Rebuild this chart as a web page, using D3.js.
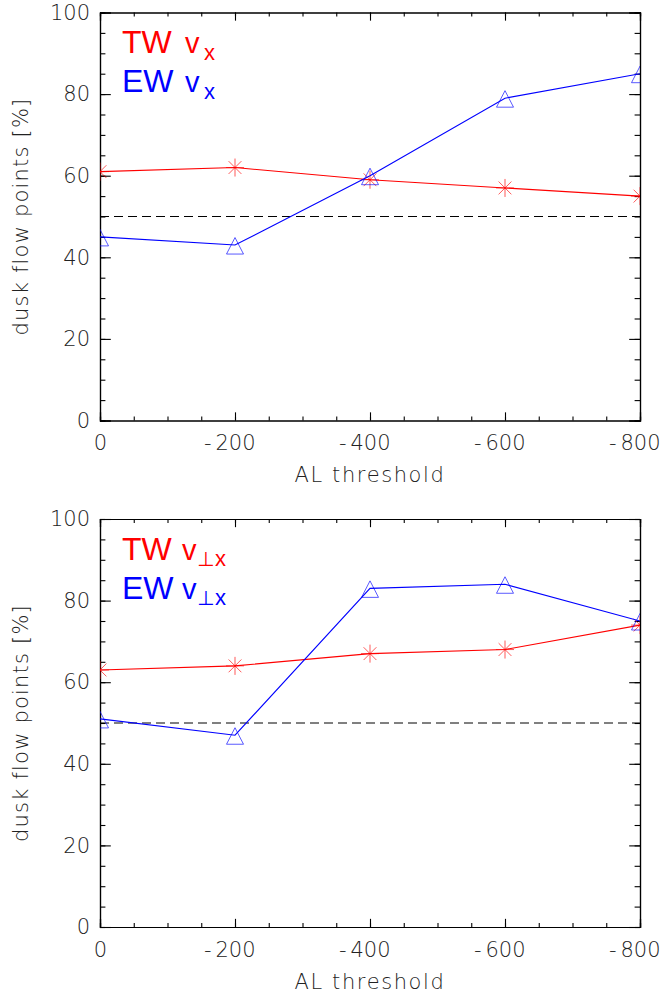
<!DOCTYPE html>
<html>
<head>
<meta charset="utf-8">
<script src="https://cdn.jsdelivr.net/npm/d3@7"></script>
<style>
  html, body { margin: 0; padding: 0; background: #fff; }
  svg { display: block; }
  .thin { font-family: "DejaVu Sans", sans-serif; font-weight: 200; fill: #222; }
</style>
</head>
<body>
<svg id="chart" width="665" height="993"></svg>
<script>
// ---------- data ----------
const alThresholds = [0, -200, -400, -600, -800];
const twVx    = [61, 62, 59, 57, 55];
const ewVx    = [45, 43, 60, 79, 85];
const twVperp = [63, 64, 67, 68, 74];
const ewVperp = [51, 47, 83, 84, 75];
const xTickValues = [0, -200, -400, -600, -800];
const yTickValues = [0, 20, 40, 60, 80, 100];
const referenceLevel = 50;
const xTitle = "AL threshold";
const yTitle = "dusk flow points [%]";

// ---------- layout ----------
const svg = d3.select("#chart");
const plotLeft = 100, plotRight = 640, plotH = 408;
const panels = [
  { top: 12.5, tw: twVx, ew: ewVx, sub: "x", perp: false, id: "a" },
  { top: 519,  tw: twVperp, ew: ewVperp, sub: "x", perp: true, id: "b" }
];
const fontSize = 21;
const red = "#ff0000", blue = "#0000ff";

const triangle = "M0,-7.5L8.5,9L-8.5,9Z";
const asterisk = "M-9,0L9,0M0,-9L0,9M-6.4,-6.4L6.4,6.4M-6.4,6.4L6.4,-6.4";

const x = d3.scaleLinear().domain([0, -800]).range([plotLeft, plotRight]);
const xMinor = d3.range(0, -801, -50);
const yMinor = d3.range(0, 101, 5);

panels.forEach(p => {
  const y = d3.scaleLinear().domain([0, 100]).range([p.top + plotH, p.top]);
  const g = svg.append("g");
  const bottom = p.top + plotH;
  const xLen = 0.02 * plotH, yLen = 0.02 * (plotRight - plotLeft);

  svg.append("clipPath").attr("id", "clip" + p.id)
    .append("rect").attr("x", plotLeft).attr("y", p.top)
    .attr("width", plotRight - plotLeft).attr("height", plotH);

  const axB = g.append("g").attr("transform", `translate(0,${bottom})`)
    .call(d3.axisBottom(x).tickValues(xTickValues).tickSize(-xLen).tickPadding(15)
      .tickFormat(d => Math.abs(d)));
  g.append("g").attr("transform", `translate(0,${bottom})`)
    .call(d3.axisBottom(x).tickValues(xMinor).tickSize(-xLen / 2).tickFormat(""));
  g.append("g").attr("transform", `translate(0,${p.top})`)
    .call(d3.axisTop(x).tickValues(xTickValues).tickSize(-xLen).tickFormat(""));
  g.append("g").attr("transform", `translate(0,${p.top})`)
    .call(d3.axisTop(x).tickValues(xMinor).tickSize(-xLen / 2).tickFormat(""));

  g.append("g").attr("transform", `translate(${plotLeft},0)`)
    .call(d3.axisLeft(y).tickValues(yTickValues).tickSize(-yLen).tickPadding(10));
  g.append("g").attr("transform", `translate(${plotLeft},0)`)
    .call(d3.axisLeft(y).tickValues(yMinor).tickSize(-yLen / 2).tickFormat(""));
  g.append("g").attr("transform", `translate(${plotRight},0)`)
    .call(d3.axisRight(y).tickValues(yTickValues).tickSize(-yLen).tickFormat(""));
  g.append("g").attr("transform", `translate(${plotRight},0)`)
    .call(d3.axisRight(y).tickValues(yMinor).tickSize(-yLen / 2).tickFormat(""));

  g.selectAll(".domain").attr("stroke", "#000").attr("stroke-width", 1.2);
  g.selectAll(".tick line").attr("stroke", "#000").attr("stroke-width", 1.1);
  g.selectAll(".tick text").attr("class", "thin").attr("font-size", fontSize)
    .attr("font-family", null);

  axB.selectAll(".tick").each(function(d) {
    if (d < 0) {
      const t = d3.select(this).select("text");
      const w = t.node().getComputedTextLength();
      d3.select(this).append("text").attr("class", "thin")
        .attr("font-size", fontSize)
        .attr("x", -w / 2 - 4).attr("y", t.attr("y")).attr("dy", t.attr("dy"))
        .attr("text-anchor", "end").text("-");
    }
  });

  g.append("line")
    .attr("x1", x(0)).attr("x2", x(-800))
    .attr("y1", y(referenceLevel)).attr("y2", y(referenceLevel))
    .attr("stroke", "#000").attr("stroke-width", 1).attr("stroke-dasharray", "9,5");

  const plot = g.append("g").attr("clip-path", `url(#clip${p.id})`);
  const line = d3.line().x((d, i) => x(alThresholds[i])).y(d => y(d));
  [[p.tw, red, asterisk], [p.ew, blue, triangle]].forEach(([vals, col, sym]) => {
    plot.append("path").datum(vals).attr("d", line)
      .attr("fill", "none").attr("stroke", col).attr("stroke-width", 1.1);
    plot.selectAll(null).data(vals).enter().append("path")
      .attr("transform", (d, i) => `translate(${x(alThresholds[i])},${y(d)})`)
      .attr("d", sym).attr("fill", "none").attr("stroke", col)
      .attr("stroke-width", 1).attr("stroke-opacity", 0.65);
  });

  g.append("text").attr("class", "thin").attr("font-size", fontSize)
    .attr("x", (plotLeft + plotRight) / 2).attr("y", bottom + 61.5)
    .attr("text-anchor", "middle").attr("letter-spacing", 1.6).text(xTitle);
  g.append("text").attr("class", "thin").attr("font-size", fontSize)
    .attr("transform", `translate(28,${p.top + plotH / 2}) rotate(-90)`)
    .attr("text-anchor", "middle").attr("letter-spacing", 1.2).text(yTitle);

  const legend = [["TW", red, p.top + 40.5], ["EW", blue, p.top + 79.5]];
  legend.forEach(([name, col, base]) => {
    const t = g.append("text").attr("font-family", "Liberation Sans, Arial, sans-serif")
      .attr("fill", col).attr("y", base);
    t.append("tspan").attr("x", 122).attr("font-size", 32).text(name);
    t.append("tspan").attr("x", p.perp ? 182 : 185).attr("font-size", 29).text("v");
    if (p.perp) {
      t.append("tspan").attr("x", 197).attr("dy", 6).attr("font-size", 20)
        .attr("font-family", "DejaVu Sans").text("\u22A5");
      t.append("tspan").attr("x", 215).attr("font-size", 22).text(p.sub);
    } else {
      t.append("tspan").attr("x", 204).attr("dy", 7).attr("font-size", 22).text(p.sub);
    }
  });
});
</script>
</body>
</html>
